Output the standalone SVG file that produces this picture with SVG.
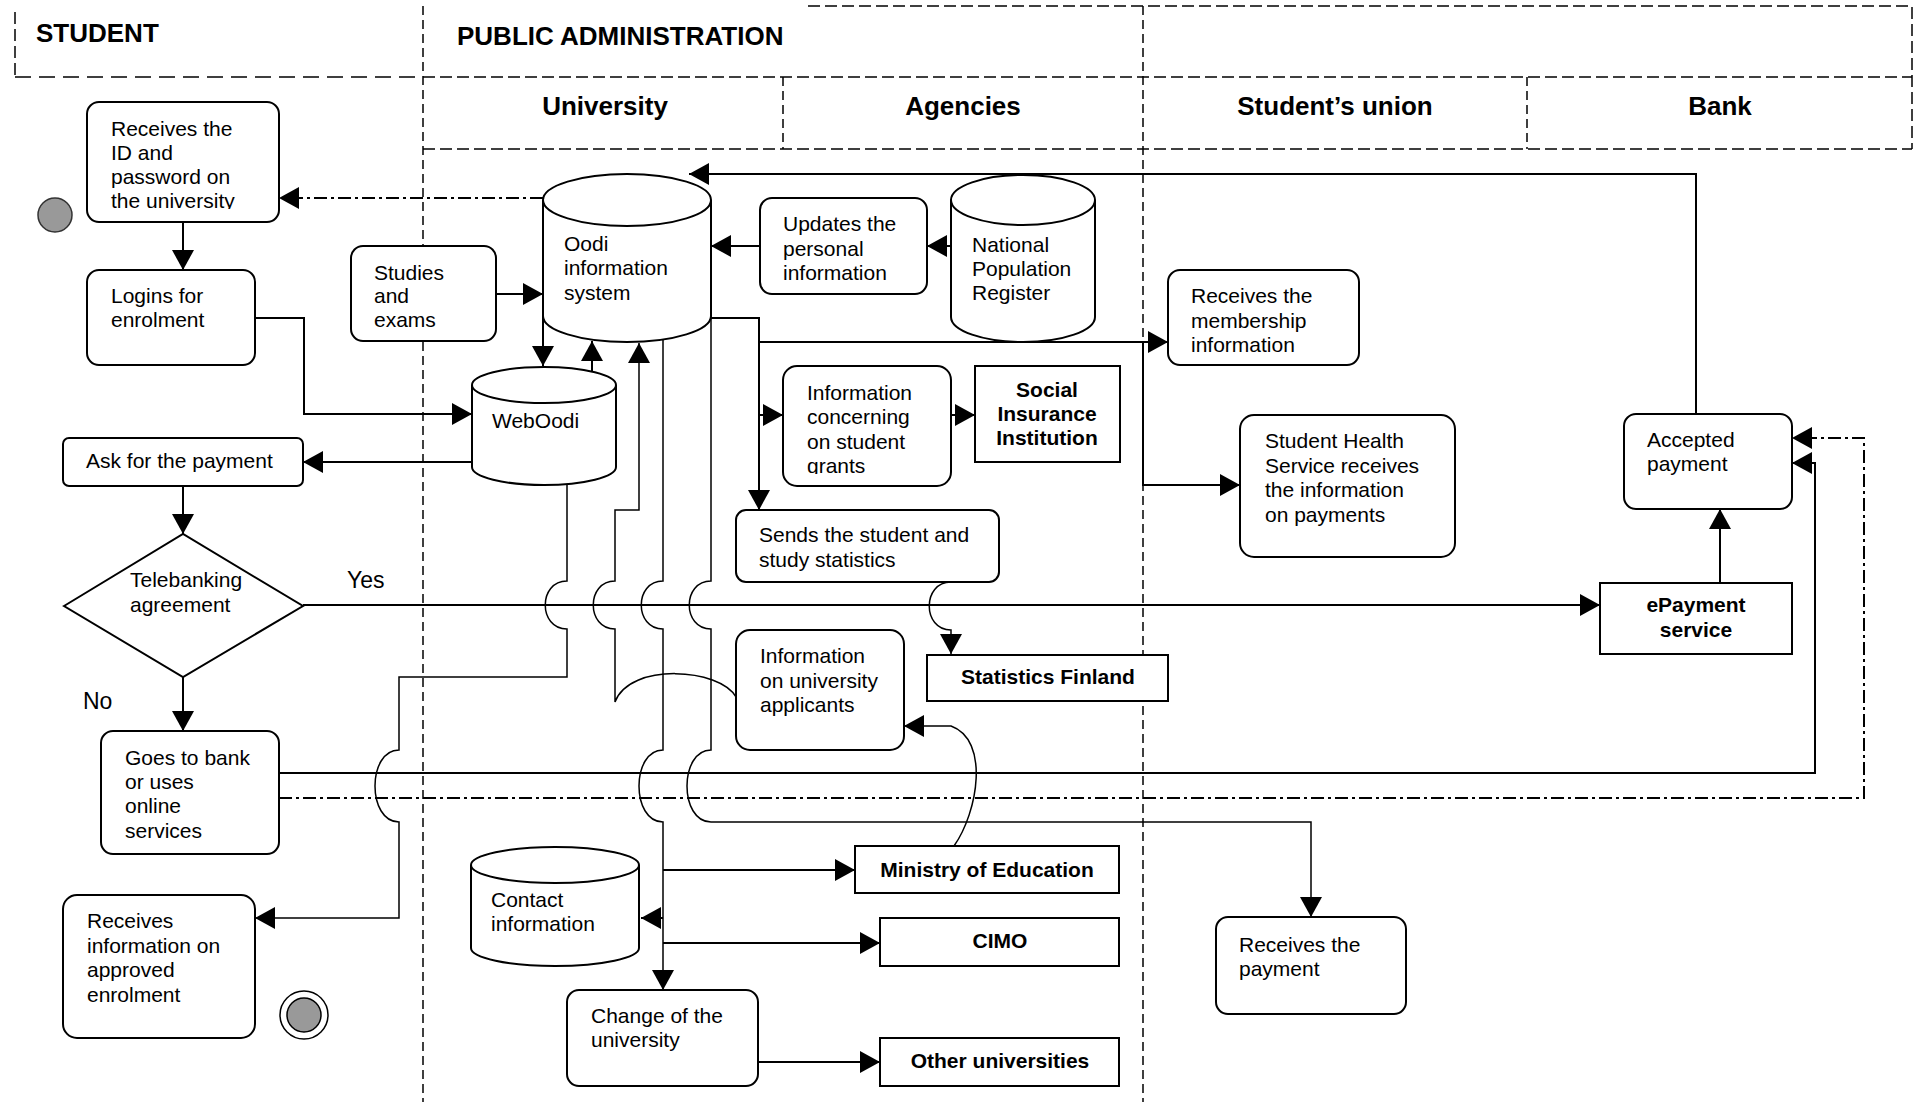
<svg xmlns="http://www.w3.org/2000/svg" width="1919" height="1108" viewBox="0 0 1919 1108">
  <style>
    .box { fill: #fff; stroke: #000; stroke-width: 2; }
    .t { font-family: "Liberation Sans", Arial, sans-serif; font-size: 21px; fill: #000; }
    .b { font-weight: bold; }
    .c { text-anchor: middle; }
    .h { font-family: "Liberation Sans", Arial, sans-serif; font-size: 26px; font-weight: bold; fill: #000; }
    .lane { fill: none; stroke: #000; stroke-width: 1.5; stroke-dasharray: 9 5; }
    .hd { fill: none; stroke: #000; stroke-width: 1.5; stroke-dasharray: 12 5; }
    .ln { fill: none; stroke: #000; stroke-width: 2; }
    .hop { stroke-width: 1.5; }
    .dd { stroke-dasharray: 13 4 3 4; }
  </style>
  <defs>
    <marker id="ah" viewBox="0 0 20 22" refX="20" refY="11" markerWidth="20" markerHeight="22" markerUnits="userSpaceOnUse" orient="auto">
      <path d="M0,0 L20,11 L0,22 z" fill="#000"/>
    </marker>
    <clipPath id="clipB"><rect x="87" y="102" width="192" height="107"/></clipPath>
    <clipPath id="clipQ"><rect x="783" y="366" width="168" height="108"/></clipPath>
  </defs>

  <rect width="1919" height="1108" fill="#fff"/>

  <!-- swimlane frame -->
  <g id="lanes">
    <path class="hd" d="M15,12 V77"/>
    <path class="hd" d="M808,6 H1912 V149"/>
    <path class="hd" style="stroke-dasharray:16 8" d="M15,77 H423"/>
    <path class="hd" d="M423,77 H1912"/>
    <path class="hd" d="M423,149 H1912"/>
    <path class="lane" d="M423,6 V1102"/>
    <path class="lane" d="M1143,6 V1102"/>
    <path class="lane" d="M783,77 V149"/>
    <path class="lane" d="M1527,77 V149"/>
    <text class="h" x="36" y="42">STUDENT</text>
    <text class="h" x="457" y="45">PUBLIC ADMINISTRATION</text>
    <text class="h c" x="605" y="115">University</text>
    <text class="h c" x="963" y="115">Agencies</text>
    <text class="h c" x="1335" y="115">Student’s union</text>
    <text class="h c" x="1720" y="115">Bank</text>
  </g>

  <!-- connectors -->
  <g id="connectors">
    <path class="ln" marker-end="url(#ah)" d="M183,222 V270"/>
    <path class="ln dd" marker-end="url(#ah)" d="M543,198 H279"/>
    <path class="ln" marker-end="url(#ah)" d="M1696,414 V174 H689"/>
    <path class="ln" marker-end="url(#ah)" d="M760,246 H711"/>
    <path class="ln" marker-end="url(#ah)" d="M951,246 H927"/>
    <path class="ln" marker-end="url(#ah)" d="M496,294 H543"/>
    <path class="ln" marker-end="url(#ah)" d="M543,316 V366"/>
    <path class="ln" marker-end="url(#ah)" d="M592,371 V341"/>
    <path class="ln" marker-end="url(#ah)" d="M255,318 H304 V414 H472"/>
    <path class="ln" marker-end="url(#ah)" d="M472,462 H303"/>
    <path class="ln" marker-end="url(#ah)" d="M183,486 V534"/>
    <path class="ln" marker-end="url(#ah)" d="M303,605 H1600"/>
    <path class="ln" marker-end="url(#ah)" d="M183,677 V731"/>
    <path class="ln" marker-end="url(#ah)" d="M279,773 H1815 V463 H1792"/>
    <path class="ln dd" marker-end="url(#ah)" d="M279,798 H1864 V438 H1792"/>
    <path class="ln" marker-end="url(#ah)" d="M1720,583 V509"/>
    <!-- WebOodi to approved enrolment, hopping over the crossings -->
    <path class="ln hop" marker-end="url(#ah)" d="M567,484 V581 C538,581 538,629 567,629 V677 H399 V750 C367,750 367,822 399,822 V918 H255"/>
    <!-- university applicants back into Oodi -->
    <path class="ln hop" marker-end="url(#ah)" d="M736,697 C720,668 630,662 615,702 V629 C586,629 586,581 615,581 V510 H639 V343"/>
    <!-- Oodi down to the ministry, CIMO, contact info and change of university -->
    <path class="ln hop" marker-end="url(#ah)" d="M663,340 V581 C634,581 634,629 663,629 V750 C631,750 631,822 663,822 V990"/>
    <path class="ln" marker-end="url(#ah)" d="M663,870 H855"/>
    <path class="ln" marker-end="url(#ah)" d="M663,918 H641"/>
    <path class="ln" marker-end="url(#ah)" d="M663,943 H880"/>
    <path class="ln" marker-end="url(#ah)" d="M758,1062 H880"/>
    <!-- Oodi to the payment receiver -->
    <path class="ln hop" marker-end="url(#ah)" d="M711,316 V581 C682,581 682,629 711,629 V750 C679,750 679,822 711,822 H1311 V917"/>
    <!-- Oodi to statistics, grants, membership and health service -->
    <path class="ln" marker-end="url(#ah)" d="M711,318 H759 V510"/>
    <path class="ln" marker-end="url(#ah)" d="M759,342 H1168"/>
    <path class="ln" marker-end="url(#ah)" d="M1143,342 V485 H1240"/>
    <path class="ln" marker-end="url(#ah)" d="M759,415 H783"/>
    <path class="ln" marker-end="url(#ah)" d="M951,415 H975"/>
    <path class="ln hop" marker-end="url(#ah)" d="M951,582 C922,582 922,630 951,630 V654"/>
    <path class="ln hop" marker-end="url(#ah)" d="M954,846 C978,812 990,740 951,726 H904"/>
  </g>

  <!-- nodes -->
  <g id="start"><circle cx="55" cy="215" r="17" fill="#999" stroke="#333" stroke-width="1.5"/></g>

  <g id="receives-id">
    <rect class="box" x="87" y="102" width="192" height="120" rx="12"/>
    <text class="t" clip-path="url(#clipB)"><tspan x="111" y="136">Receives the</tspan><tspan x="111" y="160">ID and</tspan><tspan x="111" y="184">password on</tspan><tspan x="111" y="208">the university</tspan></text>
  </g>

  <g id="logins">
    <rect class="box" x="87" y="270" width="168" height="95" rx="12"/>
    <text class="t"><tspan x="111" y="303">Logins for</tspan><tspan x="111" y="327">enrolment</tspan></text>
  </g>

  <g id="ask-payment">
    <rect class="box" x="63" y="438" width="240" height="48" rx="6"/>
    <text class="t" x="86" y="468">Ask for the payment</text>
  </g>

  <g id="telebanking">
    <path class="box" d="M64,606 L183,534 L303,606 L183,677 Z"/>
    <text class="t"><tspan x="130" y="587">Telebanking</tspan><tspan x="130" y="612">agreement</tspan></text>
    <text class="t" style="font-size:23px" x="347" y="588">Yes</text>
    <text class="t" style="font-size:23px" x="83" y="709">No</text>
  </g>

  <g id="goes-to-bank">
    <rect class="box" x="101" y="731" width="178" height="123" rx="12"/>
    <text class="t"><tspan x="125" y="765">Goes to bank</tspan><tspan x="125" y="789">or uses</tspan><tspan x="125" y="813">online</tspan><tspan x="125" y="838">services</tspan></text>
  </g>

  <g id="approved-enrolment">
    <rect class="box" x="63" y="895" width="192" height="143" rx="14"/>
    <text class="t"><tspan x="87" y="928">Receives</tspan><tspan x="87" y="953">information on</tspan><tspan x="87" y="977">approved</tspan><tspan x="87" y="1002">enrolment</tspan></text>
  </g>

  <g id="end">
    <circle cx="304" cy="1015" r="24" fill="#fff" stroke="#000" stroke-width="1.5"/>
    <circle cx="304" cy="1015" r="17" fill="#999" stroke="#000" stroke-width="1.5"/>
  </g>

  <g id="studies">
    <rect class="box" x="351" y="246" width="145" height="95" rx="12"/>
    <text class="t"><tspan x="374" y="280">Studies</tspan><tspan x="374" y="303">and</tspan><tspan x="374" y="327">exams</tspan></text>
  </g>

  <g id="oodi">
    <path class="box" d="M543,200 V316 A84,26 0 0 0 711,316 V200"/>
    <ellipse class="box" cx="627" cy="200" rx="84" ry="26"/>
    <text class="t"><tspan x="564" y="251">Oodi</tspan><tspan x="564" y="275">information</tspan><tspan x="564" y="300">system</tspan></text>
  </g>

  <g id="weboodi">
    <path class="box" d="M472,385 V467 A72,18 0 0 0 616,467 V385"/>
    <ellipse class="box" cx="544" cy="385" rx="72" ry="18"/>
    <text class="t" x="492" y="428">WebOodi</text>
  </g>

  <g id="updates-personal">
    <rect class="box" x="760" y="198" width="167" height="96" rx="12"/>
    <text class="t"><tspan x="783" y="231">Updates the</tspan><tspan x="783" y="256">personal</tspan><tspan x="783" y="280">information</tspan></text>
  </g>

  <g id="population-register">
    <path class="box" d="M951,200 V317 A72,25 0 0 0 1095,317 V200"/>
    <ellipse class="box" cx="1023" cy="200" rx="72" ry="25"/>
    <text class="t"><tspan x="972" y="252">National</tspan><tspan x="972" y="276">Population</tspan><tspan x="972" y="300">Register</tspan></text>
  </g>

  <g id="membership">
    <rect class="box" x="1168" y="270" width="191" height="95" rx="12"/>
    <text class="t"><tspan x="1191" y="303">Receives the</tspan><tspan x="1191" y="328">membership</tspan><tspan x="1191" y="352">information</tspan></text>
  </g>

  <g id="student-grants">
    <rect class="box" x="783" y="366" width="168" height="120" rx="14"/>
    <text class="t" clip-path="url(#clipQ)"><tspan x="807" y="400">Information</tspan><tspan x="807" y="424">concerning</tspan><tspan x="807" y="449">on student</tspan><tspan x="807" y="473">grants</tspan></text>
  </g>

  <g id="social-insurance">
    <rect class="box" x="975" y="366" width="145" height="96"/>
    <text class="t b c"><tspan x="1047" y="397">Social</tspan><tspan x="1047" y="421">Insurance</tspan><tspan x="1047" y="445">Institution</tspan></text>
  </g>

  <g id="health-service">
    <rect class="box" x="1240" y="415" width="215" height="142" rx="14"/>
    <text class="t"><tspan x="1265" y="448">Student Health</tspan><tspan x="1265" y="473">Service receives</tspan><tspan x="1265" y="497">the information</tspan><tspan x="1265" y="522">on payments</tspan></text>
  </g>

  <g id="accepted-payment">
    <rect class="box" x="1624" y="414" width="168" height="95" rx="12"/>
    <text class="t"><tspan x="1647" y="447">Accepted</tspan><tspan x="1647" y="471">payment</tspan></text>
  </g>

  <g id="epayment">
    <rect class="box" x="1600" y="583" width="192" height="71"/>
    <text class="t b c"><tspan x="1696" y="612">ePayment</tspan><tspan x="1696" y="637">service</tspan></text>
  </g>

  <g id="study-statistics">
    <rect class="box" x="736" y="510" width="263" height="72" rx="10"/>
    <text class="t"><tspan x="759" y="542">Sends the student and</tspan><tspan x="759" y="567">study statistics</tspan></text>
  </g>

  <g id="statistics-finland">
    <rect class="box" x="927" y="655" width="241" height="46"/>
    <text class="t b c" x="1048" y="684">Statistics Finland</text>
  </g>

  <g id="applicants">
    <rect class="box" x="736" y="630" width="168" height="120" rx="14"/>
    <text class="t"><tspan x="760" y="663">Information</tspan><tspan x="760" y="688">on university</tspan><tspan x="760" y="712">applicants</tspan></text>
  </g>

  <g id="contact-info">
    <path class="box" d="M471,865 V948 A84,18 0 0 0 639,948 V865"/>
    <ellipse class="box" cx="555" cy="865" rx="84" ry="18"/>
    <text class="t"><tspan x="491" y="907">Contact</tspan><tspan x="491" y="931">information</tspan></text>
  </g>

  <g id="ministry">
    <rect class="box" x="855" y="846" width="264" height="47"/>
    <text class="t b c" x="987" y="877">Ministry of Education</text>
  </g>

  <g id="cimo">
    <rect class="box" x="880" y="918" width="239" height="48"/>
    <text class="t b c" x="1000" y="948">CIMO</text>
  </g>

  <g id="change-university">
    <rect class="box" x="567" y="990" width="191" height="96" rx="12"/>
    <text class="t"><tspan x="591" y="1023">Change of the</tspan><tspan x="591" y="1047">university</tspan></text>
  </g>

  <g id="other-universities">
    <rect class="box" x="880" y="1038" width="239" height="48"/>
    <text class="t b c" x="1000" y="1068">Other universities</text>
  </g>

  <g id="receives-payment">
    <rect class="box" x="1216" y="917" width="190" height="97" rx="12"/>
    <text class="t"><tspan x="1239" y="952">Receives the</tspan><tspan x="1239" y="976">payment</tspan></text>
  </g>
</svg>
